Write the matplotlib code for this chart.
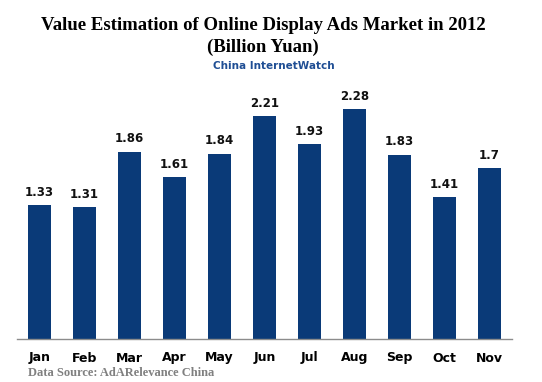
import matplotlib
matplotlib.use("Agg")
import matplotlib.pyplot as plt

months = ['Jan', 'Feb', 'Mar', 'Apr', 'May', 'Jun', 'Jul', 'Aug', 'Sep', 'Oct', 'Nov']
values = [1.33, 1.31, 1.86, 1.61, 1.84, 2.21, 1.93, 2.28, 1.83, 1.41, 1.70]
value_labels = ['1.33', '1.31', '1.86', '1.61', '1.84', '2.21', '1.93', '2.28', '1.83', '1.41', '1.7']

bar_color = '#0A3A78'

fig = plt.figure(figsize=(5.42, 3.82), dpi=100)
fig.patch.set_facecolor('white')
# axes: x from 17px to 512px, bottom at 339px
ax = fig.add_axes([17 / 542, (382 - 339) / 382, (512 - 17) / 542, 252 / 382])

x = range(len(months))
ax.bar(x, values, width=0.51, color=bar_color, zorder=2)
for i, (v, lab) in enumerate(zip(values, value_labels)):
    ax.text(i, v + 0.06, lab, ha='center', va='bottom', fontsize=8.5,
            fontweight='bold', family='DejaVu Sans', color='#111111')

ax.set_xlim(-0.5, 10.5)
ax.set_ylim(0, 2.5)
ax.set_xticks(list(x))
ax.set_xticklabels(months, fontsize=9, fontweight='bold', family='DejaVu Sans')
ax.tick_params(axis='x', length=0, pad=9)
ax.set_yticks([])
for s in ['top', 'right', 'left']:
    ax.spines[s].set_visible(False)
ax.spines['bottom'].set_color('#8C8C8C')
ax.spines['bottom'].set_linewidth(1.0)

# title block sits a little left of centre in the original
fig.text(263 / 542, 1 - 25 / 382, 'Value Estimation of Online Display Ads Market in 2012',
         ha='center', va='center', fontsize=13.5, fontweight='bold', family='Liberation Serif')
fig.text(263 / 542, 1 - 47 / 382, '(Billion Yuan)', ha='center', va='center',
         fontsize=13.5, fontweight='bold', family='Liberation Serif')
fig.text(274 / 542, 1 - 66 / 382, 'China InternetWatch', ha='center', va='center',
         fontsize=7.5, fontweight='bold', family='DejaVu Sans',
         color='#1F4E94')
fig.text(28 / 542, 1 - 373 / 382, 'Data Source: AdARelevance China', ha='left', va='center',
         fontsize=9, fontweight='bold', family='Liberation Serif', color='#808080')

fig.savefig('out.png', dpi=100)
